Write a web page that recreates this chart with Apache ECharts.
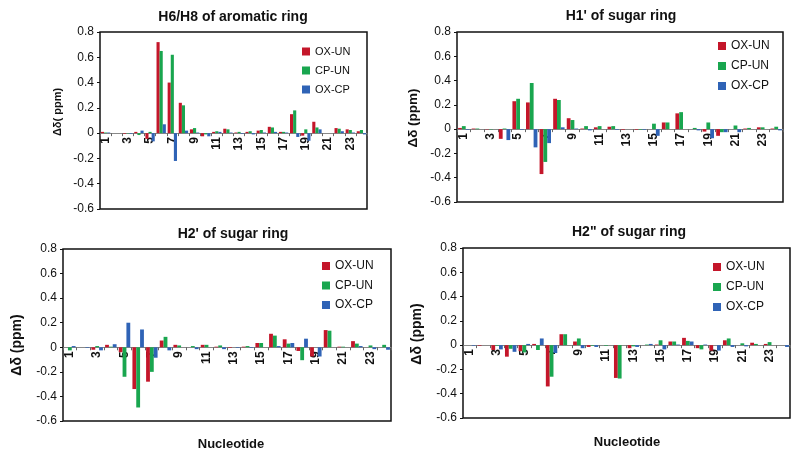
<!DOCTYPE html>
<html><head><meta charset="utf-8">
<script src="https://cdn.jsdelivr.net/npm/echarts@6/dist/echarts.min.js"></script>
<style>html,body{margin:0;padding:0;background:#fff}#c{width:800px;height:454px}</style>
</head><body><div id="c"></div>
<script>
const categories = ['1','2','3','4','5','6','7','8','9','10','11','12','13','14','15','16','17','18','19','20','21','22','23','24'];
const seriesNames = ['OX-UN','CP-UN','OX-CP'];
const yTicks = [-0.6,-0.4,-0.2,0,0.2,0.4,0.6,0.8];
const panelTitles = ["H6/H8 of aromatic ring","H1' of sugar ring","H2' of sugar ring",'H2" of sugar ring'];
const yNames = ['\u0394\u03b4( ppm)','\u0394\u03b4 (ppm)','\u0394\u03b4 (ppm)','\u0394\u03b4 (ppm)'];
const xName = 'Nucleotide';

const h6h8_OXUN = [0.01,0,-0.005,0.01,-0.045,0.72,0.40,0.24,0.03,-0.025,0.01,0.035,0.005,0.01,0.02,0.05,0.01,0.15,-0.02,0.09,0,0.04,0.03,0.015];
const h6h8_CPUN = [0.005,0,-0.003,-0.015,0.01,0.65,0.62,0.22,0.04,-0.01,0.015,0.03,0.01,0.015,0.025,0.045,0.01,0.18,0.03,0.045,0,0.035,0.025,0.025];
const h6h8_OXCP = [0.005,0,-0.005,0.02,-0.065,0.07,-0.22,0.02,0.005,-0.025,0.01,0.005,-0.005,-0.01,0.005,0.01,0.005,-0.03,-0.06,0.03,0,0.015,0.005,-0.01];

const h1_OXUN = [0.01,0.005,-0.003,-0.08,0.23,0.22,-0.37,0.25,0.09,0.005,0.015,0.02,-0.005,-0.005,0,0.055,0.13,0,-0.02,-0.055,0,0.005,0.015,0.005];
const h1_CPUN = [0.025,0.005,-0.003,0.005,0.25,0.38,-0.27,0.24,0.075,0.025,0.025,0.025,0,-0.005,0.045,0.055,0.14,0.01,0.055,-0.025,0.03,0.01,0.015,0.02];
const h1_OXCP = [-0.005,0,0,-0.09,-0.005,-0.15,-0.115,0.015,0.005,-0.01,0,-0.005,0,-0.005,-0.055,0,0,-0.01,-0.075,-0.025,-0.025,0,0,-0.01];

const h2p_OXUN = [0,0,-0.02,0.02,-0.04,-0.34,-0.28,0.055,0.02,0,0.02,0.005,-0.005,0.005,0.035,0.11,0.065,-0.03,-0.075,0.14,0.005,0.05,0,0];
const h2p_CPUN = [-0.025,0,0.01,0.005,-0.24,-0.49,-0.2,0.085,0.015,0.01,0.02,0.015,0,0.01,0.035,0.095,0.03,-0.105,0,0.135,0.005,0.03,0.015,0.02];
const h2p_OXCP = [0.01,-0.005,-0.025,0.025,0.2,0.145,-0.085,-0.025,0,-0.015,0,-0.015,-0.005,-0.005,0,0.01,0.035,0.07,-0.075,0,0,0.01,-0.015,-0.02];

const h2pp_OXUN = [0,-0.005,-0.04,-0.095,-0.05,0.01,-0.34,0.09,0.03,-0.015,0,-0.27,-0.025,0,0.005,0.03,0.06,-0.025,-0.045,0.04,0,0.02,0.01,0];
const h2pp_CPUN = [0,0,-0.005,-0.03,-0.06,-0.04,-0.26,0.09,0.055,-0.005,-0.005,-0.275,-0.01,0.005,0.04,0.03,0.035,-0.035,0,0.055,0.015,0.01,0.025,0];
const h2pp_OXCP = [-0.005,0,-0.035,-0.055,0.01,0.055,-0.065,0,-0.025,-0.015,0,0,-0.015,0.01,-0.035,0.005,0.03,0.005,-0.045,-0.015,-0.01,0,0,-0.015];

const panelData = [
  [h6h8_OXUN, h6h8_CPUN, h6h8_OXCP],
  [h1_OXUN, h1_CPUN, h1_OXCP],
  [h2p_OXUN, h2p_CPUN, h2p_OXCP],
  [h2pp_OXUN, h2pp_CPUN, h2pp_OXCP]
];
const colors = ['#C4162A','#19A64F','#2F63B6'];
const FONT = 'Liberation Sans, Arial, sans-serif';

const grids = [
  {left:100, top:32, width:267, height:177},
  {left:457, top:32, width:326, height:170},
  {left:63, top:249, width:328, height:172},
  {left:463, top:248, width:327, height:170}
];
const legendPos = [
  {left:302, top:46, gap:8, fs:11},
  {left:718, top:40, gap:8, fs:12},
  {left:322, top:260, gap:7.5, fs:12},
  {left:713, top:261, gap:8, fs:12}
];
const titlePos = [
  {x:233, y:10}, {x:621, y:9}, {x:233, y:227}, {x:629, y:225}
];
const yNamePos = [
  {x:58, y:112, fs:11}, {x:413, y:118, fs:13.5}, {x:17, y:345, fs:14}, {x:417, y:334, fs:14}
];
const yMin = yTicks[0], yMax = yTicks[yTicks.length-1];

const option = {
  animation:false,
  color: colors,
  grid: grids.map(g => ({...g, show:true, borderColor:'#111', borderWidth:1.5, backgroundColor:'transparent'})),
  xAxis: grids.map((g,i) => ({
    type:'category', gridIndex:i, data:categories, position:'bottom',
    // place the category axis on the zero line of the value axis
    offset: -g.height * (0 - yMin) / (yMax - yMin),
    axisLine:{onZero:false, lineStyle:{color:'#888', width:1}},
    axisTick:{show:true, interval:0, length:3, lineStyle:{color:'#666'}},
    axisLabel:{interval:1, rotate:90, margin:4, fontSize:12, fontWeight:'bold', color:'#111', fontFamily:FONT}
  })),
  yAxis: grids.map((g,i) => ({
    type:'value', gridIndex:i, min:yMin, max:yMax, interval:0.2,
    splitLine:{show:false},
    axisLine:{show:false},
    axisTick:{show:true, length:3, lineStyle:{color:'#111'}},
    axisLabel:{fontSize:12, color:'#111', margin:6, fontFamily:FONT,
      formatter: v => { const r = Math.round(v*10)/10; return r === 0 ? '0' : String(r); }}
  })),
  title: [
    ...panelTitles.map((t,i) => ({text:t, left:titlePos[i].x, top:titlePos[i].y, textAlign:'center', padding:0,
      textStyle:{fontSize:14, fontWeight:'bold', color:'#111', fontFamily:FONT}})),
    {text:xName, left:231, top:438, textAlign:'center', padding:0, textStyle:{fontSize:13, fontWeight:'bold', color:'#111', fontFamily:FONT}},
    {text:xName, left:627, top:436, textAlign:'center', padding:0, textStyle:{fontSize:13, fontWeight:'bold', color:'#111', fontFamily:FONT}}
  ],
  legend: legendPos.map(p => ({
    data: seriesNames, orient:'vertical', left:p.left, top:p.top, padding:0, itemGap:p.gap,
    itemWidth:8, itemHeight:8, icon:'rect', selectedMode:false,
    textStyle:{fontSize:p.fs, color:'#111', fontFamily:FONT}
  })),
  graphic: yNamePos.map((p,i) => ({
    type:'text', x:p.x, y:p.y, rotation:Math.PI/2,
    style:{text:yNames[i], fontSize:p.fs, fontWeight:'bold', fill:'#111', fontFamily:FONT, textAlign:'center', textVerticalAlign:'middle'}
  })),
  series: []
};
panelData.forEach((arrs, gi) => {
  arrs.forEach((arr, si) => {
    option.series.push({
      type:'bar', name:seriesNames[si], xAxisIndex:gi, yAxisIndex:gi, data:arr,
      barGap:'0%', barCategoryGap:'16%',
      itemStyle:{color:colors[si]}
    });
  });
});
const chart = echarts.init(document.getElementById('c'), null, {renderer:'canvas'});
chart.setOption(option);
</script>
</body></html>
